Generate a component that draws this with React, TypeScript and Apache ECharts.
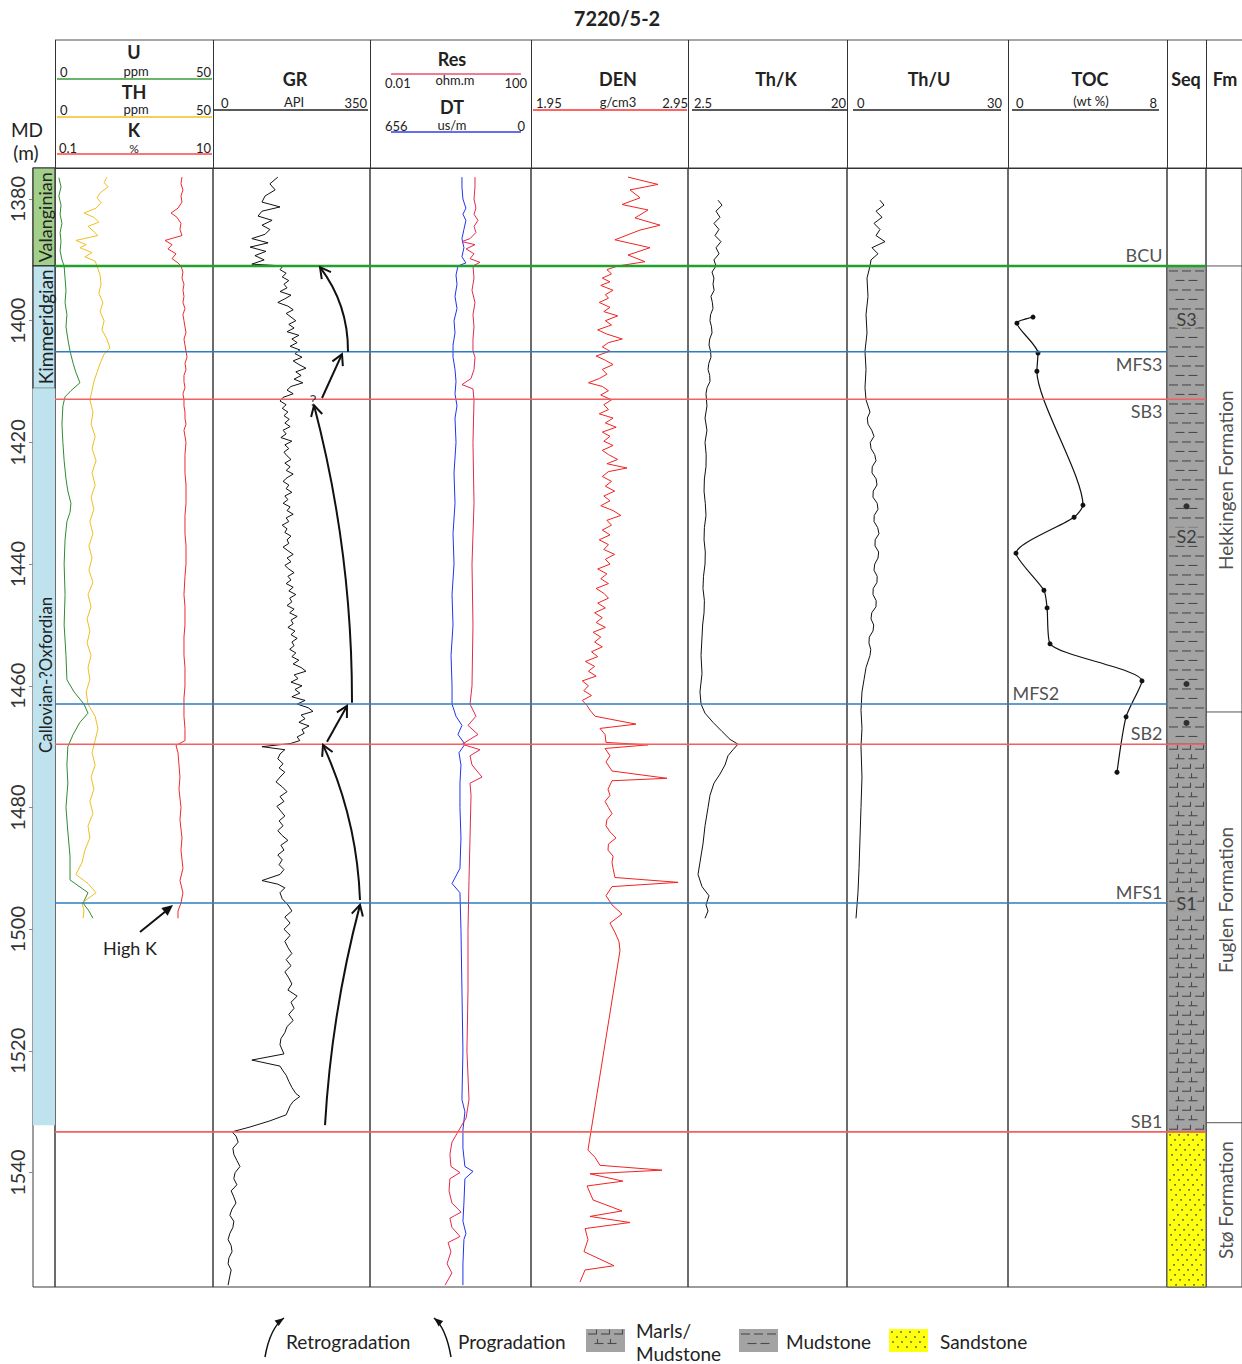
import React, { useEffect, useRef } from "react";
import * as echarts from "echarts";

const FONT = "Lato, 'Noto Sans', sans-serif";
const DEPTH_MIN = 1374.9;
const DEPTH_MAX = 1558.8;
const depthTicks = [1380, 1400, 1420, 1440, 1460, 1480, 1500, 1520, 1540];

// ---- log curves: [depth (m), value] ----
const U_PPM = [
  [1376.5, 0.6], [1378, 1.3], [1379.5, 0.6], [1381, 1.3], [1382.5, 1.0], [1384, 1.6], [1385.5, 1.0], [1387, 1.3],
  [1388.5, 1.0], [1390, 1.6], [1391, 2.3], [1393, 2.6], [1395, 2.9], [1397, 2.6], [1399, 3.2], [1401, 2.9],
  [1403, 3.5], [1405, 4.2], [1407, 5.2], [1408.5, 6.1], [1410.2, 7.4], [1411.5, 4.5], [1412.5, 2.6], [1414, 1.9],
  [1417, 1.6], [1420, 1.9], [1423, 2.3], [1426, 2.9], [1428, 3.5], [1430, 4.5], [1431.5, 4.2], [1433, 3.2],
  [1436, 2.6], [1440, 2.3], [1445, 2.6], [1450, 2.3], [1455, 2.9], [1459, 3.2], [1461, 5.5], [1463, 8.7],
  [1464.5, 10.0], [1466, 7.4], [1468, 5.2], [1470, 3.5], [1473, 3.2], [1476, 3.5], [1480, 2.9], [1484, 3.5],
  [1488, 4.2], [1491.9, 4.2], [1494, 10.0], [1495.7, 8.4], [1497, 10.3], [1498.2, 11.6],
];
const TH_PPM = [
  [1376.4, 16.1], [1377.3, 15.2], [1378.0, 16.5], [1379.0, 13.9], [1379.8, 12.9], [1380.6, 14.2], [1381.5, 12.6],
  [1382.3, 8.7], [1383.0, 11.9], [1383.8, 13.5], [1384.5, 10.0], [1385.2, 11.6], [1386.0, 13.2], [1386.8, 6.1],
  [1387.5, 9.4], [1388.0, 7.4], [1388.8, 11.3], [1389.5, 9.0], [1390.2, 12.3], [1391.0, 12.9], [1392.5, 13.9],
  [1394, 14.2], [1395.5, 13.5], [1397, 14.8], [1398.5, 13.9], [1400, 15.2], [1401.5, 14.5], [1403, 16.1],
  [1404.5, 17.1], [1405.5, 15.2], [1407, 13.9], [1408.5, 12.9], [1410, 11.9], [1411.5, 11.3], [1413, 10.6],
  [1415, 11.6], [1417, 11.0], [1419, 12.3], [1421, 11.3], [1423, 12.6], [1425, 11.3], [1427, 12.3], [1429, 11.0],
  [1431, 11.9], [1433, 10.6], [1435, 11.6], [1437, 10.3], [1439, 11.3], [1441, 10.3], [1443, 11.6], [1445, 10.0],
  [1447, 11.0], [1449, 9.7], [1451, 10.6], [1453, 9.7], [1455, 11.0], [1457, 10.0], [1459, 10.6], [1461, 9.4],
  [1463, 10.0], [1465, 12.3], [1467, 13.2], [1469, 12.3], [1471, 11.3], [1473, 12.3], [1475, 11.0], [1477, 11.9],
  [1479, 10.6], [1481, 11.6], [1483, 10.0], [1485, 10.6], [1487, 9.0], [1489, 8.1], [1491, 6.1], [1492.5, 10.0],
  [1494, 12.6], [1495.7, 8.1], [1497, 8.7], [1498.2, 8.4],
];
const K_PCT = [
  [1376.4, 4.10], [1377.5, 3.98], [1378.5, 4.22], [1379.5, 3.98], [1380.5, 4.10], [1381.5, 3.64], [1382.3, 2.96],
  [1383.0, 3.53], [1384.0, 3.98], [1385.0, 3.86], [1386.0, 4.10], [1386.8, 2.48], [1387.5, 3.05], [1388.2, 2.70],
  [1389.0, 3.43], [1389.8, 3.05], [1390.5, 3.64], [1391.0, 3.98], [1392, 4.22], [1393, 4.10], [1394, 4.35],
  [1395, 4.22], [1396, 4.35], [1397, 4.22], [1398, 4.48], [1399, 4.22], [1400, 4.35], [1401, 4.48], [1402, 4.62],
  [1403, 4.35], [1404, 4.48], [1405, 4.62], [1406, 4.76], [1407, 4.48], [1408, 4.62], [1409, 4.35], [1410, 4.35],
  [1411, 4.48], [1412, 4.22], [1413, 4.35], [1414, 4.35], [1415, 4.48], [1416, 4.48], [1417, 4.62], [1418, 4.35],
  [1420, 4.62], [1422, 4.48], [1425, 4.48], [1427, 4.62], [1430, 4.62], [1432, 4.48], [1435, 4.48], [1437, 4.62],
  [1440, 4.62], [1442, 4.48], [1445, 4.35], [1447, 4.48], [1450, 4.48], [1452, 4.35], [1455, 4.35], [1457, 4.48],
  [1460, 4.48], [1462, 4.35], [1465, 4.35], [1467, 4.48], [1469, 4.48], [1469.8, 3.43], [1471, 3.64],
  [1473, 3.75], [1475, 3.86], [1477, 3.75], [1480, 3.98], [1482, 3.86], [1485, 4.10], [1487, 3.98], [1490, 4.22],
  [1492, 3.86], [1494, 4.22], [1495.7, 3.98], [1497, 3.64], [1498.2, 3.64],
];
const GR_API = [
  [1376.4, 145], [1377.5, 127], [1378.5, 139], [1379.5, 116], [1380.5, 109], [1381.3, 150], [1382.0, 109],
  [1382.8, 100], [1383.5, 132], [1384.3, 109], [1385.0, 127], [1385.8, 116], [1386.5, 86], [1387.2, 123],
  [1387.9, 82], [1388.6, 118], [1389.3, 93], [1390.0, 114], [1390.7, 86], [1391, 157], [1391.6, 150],
  [1392.2, 164], [1392.8, 155], [1393.4, 170], [1394, 159], [1394.6, 166], [1395.2, 150], [1395.8, 175],
  [1396.4, 161], [1397, 145], [1397.6, 168], [1398.2, 180], [1398.8, 164], [1399.4, 175], [1400, 186],
  [1400.6, 170], [1401.2, 182], [1401.8, 166], [1402.4, 193], [1403, 177], [1403.6, 189], [1404.2, 173],
  [1404.8, 195], [1405.4, 184], [1406, 200], [1406.6, 180], [1407.2, 193], [1407.8, 209], [1408.4, 186],
  [1409, 198], [1409.6, 182], [1410.2, 202], [1410.8, 175], [1411.4, 166], [1412, 180], [1412.6, 157],
  [1413.2, 150], [1413.8, 164], [1414.4, 155], [1415, 168], [1415.6, 159], [1416.2, 171], [1416.8, 161],
  [1417.4, 173], [1418, 157], [1418.6, 164], [1419.2, 152], [1419.8, 177], [1420.4, 161], [1421, 170],
  [1421.6, 159], [1422.2, 166], [1422.8, 175], [1423.4, 161], [1424, 173], [1424.6, 164], [1425.2, 180],
  [1425.8, 166], [1426.4, 157], [1427, 170], [1427.6, 164], [1428.2, 177], [1428.8, 161], [1429.4, 168],
  [1430, 157], [1430.6, 173], [1431.2, 166], [1431.8, 180], [1432.4, 164], [1433, 170], [1433.6, 155],
  [1434.2, 166], [1434.8, 161], [1435.4, 175], [1436, 166], [1436.6, 170], [1437.2, 157], [1437.8, 168],
  [1438.4, 180], [1439, 166], [1439.6, 175], [1440.2, 161], [1440.8, 170], [1441.4, 182], [1442, 168],
  [1442.6, 175], [1443.2, 164], [1443.8, 180], [1444.4, 170], [1445, 186], [1445.6, 172], [1446.2, 177],
  [1446.8, 166], [1447.4, 182], [1448, 172], [1448.6, 189], [1449.2, 175], [1449.8, 180], [1450.4, 168],
  [1451, 184], [1451.6, 175], [1452.2, 189], [1452.8, 177], [1453.4, 182], [1454, 172], [1454.6, 186],
  [1455.2, 177], [1455.8, 193], [1456.4, 180], [1457, 198], [1457.6, 209], [1458.2, 182], [1458.8, 191],
  [1459.4, 175], [1460, 200], [1460.6, 184], [1461.2, 195], [1461.8, 177], [1462.4, 207], [1463, 189],
  [1463.6, 214], [1464.2, 225], [1464.8, 198], [1465.4, 207], [1466, 193], [1466.6, 216], [1467.2, 200],
  [1467.8, 205], [1468.4, 189], [1469, 195], [1469.5, 173], [1470, 109], [1470.5, 161], [1471.2, 150],
  [1472, 145], [1472.8, 157], [1473.5, 148], [1474.2, 161], [1475, 150], [1475.8, 141], [1476.6, 155],
  [1477.4, 166], [1478.2, 150], [1479, 159], [1479.8, 143], [1480.6, 152], [1481.4, 161], [1482.2, 148],
  [1483, 157], [1483.8, 145], [1484.6, 155], [1485.4, 168], [1486.2, 152], [1487, 159], [1487.8, 145],
  [1488.6, 155], [1489.4, 148], [1490.2, 159], [1491, 150], [1492, 109], [1492.6, 145], [1493.2, 161],
  [1494, 150], [1495, 155], [1496, 168], [1497, 177], [1498, 161], [1499, 173], [1500, 159], [1501, 173],
  [1502, 161], [1503, 168], [1504, 177], [1505, 164], [1506, 175], [1507, 161], [1508, 170], [1509, 177],
  [1510, 168], [1511, 189], [1512, 175], [1513, 182], [1514, 170], [1515, 180], [1516, 166], [1517, 161],
  [1518, 152], [1519, 150], [1520.5, 159], [1521.5, 86], [1522.5, 150], [1523.3, 157], [1524, 164],
  [1525, 170], [1526, 177], [1527, 186], [1527.5, 195], [1528.3, 180], [1529, 173], [1530.5, 164],
  [1531.5, 127], [1532.5, 82], [1533.3, 41], [1534, 50], [1535, 55], [1536, 43], [1537, 45], [1538, 52],
  [1539, 59], [1540, 48], [1541, 45], [1542, 52], [1543, 39], [1544, 45], [1545, 50], [1546, 41], [1547, 36],
  [1548, 45], [1549, 43], [1550, 36], [1551, 32], [1552, 39], [1553, 41], [1554, 34], [1555, 32], [1556, 39],
  [1557, 36], [1558.5, 32],
];
const RES_OHMM = [
  [1376.4, 3.84], [1378, 3.84], [1380, 3.58], [1381.5, 4.12], [1382.5, 3.58], [1383.5, 4.75], [1384.5, 3.58],
  [1385.5, 4.12], [1386.5, 2.70], [1387, 1.53], [1387.5, 3.84], [1388.2, 2.05], [1389, 3.58], [1389.8, 2.70],
  [1390.4, 5.47], [1391, 3.33], [1393, 3.58], [1395, 3.11], [1397, 3.84], [1399, 3.33], [1401, 3.58], [1403, 3.33],
  [1405, 3.33], [1406, 3.84], [1408, 3.58], [1409.5, 2.90], [1410.5, 1.53], [1411.2, 3.33], [1413, 3.58],
  [1420, 3.33], [1430, 3.58], [1440, 3.11], [1450, 3.33], [1460, 3.11], [1463, 2.70], [1465, 4.12], [1466.5, 2.34],
  [1468, 4.75], [1469.6, 1.53], [1470.5, 5.47], [1471.5, 2.70], [1473, 3.11], [1475, 6.31], [1476, 2.70],
  [1478, 2.90], [1485, 2.70], [1492, 2.51], [1500, 2.34], [1510, 2.34], [1520, 2.17], [1528, 2.51], [1531, 2.05],
  [1533.3, 1.15], [1535, 0.75], [1537, 0.65], [1539, 0.70], [1540, 1.33], [1541, 0.65], [1543, 0.61], [1545, 0.75],
  [1546.5, 1.43], [1547.5, 0.65], [1549, 0.75], [1550.5, 1.33], [1551.5, 0.57], [1553, 0.70], [1555, 0.53],
  [1556.5, 0.75], [1558.5, 0.46],
];
const DT_USM = [
  [1376.4, 298], [1378, 298], [1380, 293], [1381.5, 278], [1382.5, 293], [1383.5, 278], [1385, 288], [1386.5, 298],
  [1388, 288], [1389.5, 298], [1390.5, 278], [1391, 318], [1392.5, 328], [1394, 323], [1396, 333], [1398, 323],
  [1400, 338], [1402, 333], [1404, 343], [1406, 343], [1408, 333], [1410, 328], [1412, 333], [1414, 323],
  [1416, 333], [1420, 328], [1425, 338], [1430, 333], [1435, 343], [1440, 338], [1445, 348], [1450, 343],
  [1455, 353], [1460, 348], [1463, 348], [1465, 328], [1466.5, 298], [1468, 318], [1469.6, 283], [1471, 313],
  [1473, 303], [1476, 308], [1480, 308], [1485, 303], [1490, 308], [1492.5, 348], [1494, 308], [1500, 303],
  [1510, 298], [1520, 293], [1528, 298], [1530, 283], [1533, 293], [1536, 293], [1539, 283], [1539.8, 242],
  [1541, 283], [1545, 288], [1548, 293], [1550, 278], [1551, 288], [1555, 293], [1558.5, 293],
];
const DEN_GCC = [
  [1376.4, 2.567], [1377.6, 2.762], [1378.5, 2.580], [1379.8, 2.645], [1380.9, 2.528], [1381.8, 2.697],
  [1383.1, 2.612], [1384.3, 2.775], [1385.1, 2.645], [1386.7, 2.482], [1388.0, 2.710], [1389.2, 2.567],
  [1390.3, 2.677], [1391.0, 2.502], [1391.6, 2.43], [1392.3, 2.46], [1393, 2.40], [1393.6, 2.45], [1394.2, 2.39],
  [1395, 2.47], [1395.7, 2.42], [1396.3, 2.44], [1397, 2.38], [1397.8, 2.45], [1398.5, 2.41], [1399.2, 2.50],
  [1400, 2.42], [1400.7, 2.46], [1401.5, 2.37], [1402.2, 2.43], [1403, 2.53], [1403.6, 2.44], [1404.3, 2.40],
  [1405, 2.45], [1405.8, 2.36], [1406.5, 2.42], [1407.2, 2.47], [1408, 2.40], [1408.8, 2.43], [1409.5, 2.38],
  [1410.2, 2.31], [1410.8, 2.40], [1411.5, 2.44], [1412.2, 2.39], [1413, 2.46], [1413.8, 2.41], [1414.6, 2.44],
  [1415.3, 2.38], [1416, 2.47], [1416.8, 2.42], [1417.5, 2.49], [1418.3, 2.40], [1419, 2.45], [1419.8, 2.41],
  [1420.5, 2.47], [1421.3, 2.40], [1422, 2.44], [1422.8, 2.50], [1423.5, 2.43], [1424.2, 2.56], [1424.8, 2.44],
  [1425.6, 2.40], [1426.4, 2.46], [1427.2, 2.42], [1428, 2.48], [1428.8, 2.41], [1429.6, 2.45], [1430.4, 2.39],
  [1431.2, 2.47], [1432, 2.52], [1432.8, 2.43], [1433.6, 2.46], [1434.4, 2.40], [1435.2, 2.45], [1436, 2.38],
  [1436.8, 2.44], [1437.6, 2.41], [1438.4, 2.48], [1439.2, 2.42], [1440, 2.45], [1440.8, 2.37], [1441.6, 2.43],
  [1442.4, 2.39], [1443.2, 2.44], [1444, 2.36], [1444.8, 2.41], [1445.6, 2.44], [1446.4, 2.37], [1447.2, 2.42],
  [1448, 2.35], [1448.8, 2.40], [1449.6, 2.36], [1450.4, 2.42], [1451.2, 2.34], [1452, 2.39], [1452.8, 2.35],
  [1453.6, 2.40], [1454.4, 2.33], [1455.2, 2.37], [1456, 2.29], [1456.8, 2.35], [1457.6, 2.31], [1458.4, 2.36],
  [1459.2, 2.27], [1460, 2.31], [1460.8, 2.28], [1461.6, 2.33], [1462.4, 2.27], [1463.2, 2.30], [1464, 2.32],
  [1465, 2.353], [1466.3, 2.619], [1467, 2.385], [1468, 2.418], [1469.3, 2.424], [1469.7, 2.697], [1470.3, 2.418],
  [1471.5, 2.450], [1472.5, 2.424], [1474, 2.463], [1475.2, 2.820], [1475.6, 2.463], [1477, 2.437], [1478, 2.45],
  [1479, 2.418], [1480, 2.44], [1481, 2.463], [1482, 2.43], [1483, 2.424], [1484, 2.45], [1485, 2.489],
  [1486, 2.44], [1487, 2.437], [1488, 2.47], [1489, 2.463], [1490, 2.47], [1491.5, 2.482], [1492.3, 2.892],
  [1493, 2.463], [1494.5, 2.424], [1496, 2.463], [1497.5, 2.528], [1499, 2.450], [1500.5, 2.482], [1502, 2.508],
  [1503.5, 2.515], [1536.3, 2.307], [1537.5, 2.353], [1538.8, 2.385], [1539.6, 2.788], [1540.2, 2.320],
  [1541.4, 2.534], [1542.2, 2.301], [1544.5, 2.340], [1546.3, 2.528], [1547.2, 2.320], [1548.2, 2.580],
  [1549.2, 2.288], [1551, 2.307], [1553, 2.281], [1555.3, 2.476], [1556, 2.288], [1558, 2.255],
];
const THK_RATIO = [
  [1380.2, 5.44], [1381, 5.89], [1382, 5.21], [1383, 5.66], [1384, 4.98], [1385, 5.55], [1386, 5.10], [1387, 5.77],
  [1388, 5.21], [1389, 5.55], [1390, 4.98], [1391, 5.21], [1392, 4.76], [1393, 4.98], [1394, 4.87], [1395, 5.0],
  [1396, 4.64], [1397, 4.8], [1398, 4.87], [1399, 4.6], [1400, 4.53], [1401, 4.7], [1402, 4.76], [1403, 4.5],
  [1404, 4.42], [1405, 4.6], [1406, 4.64], [1407, 4.4], [1408, 4.31], [1409, 4.5], [1410, 4.53], [1411, 4.2],
  [1412, 4.08], [1414, 4.19], [1416, 3.97], [1418, 4.19], [1420, 3.97], [1422, 4.1], [1424, 4.08], [1426, 3.9],
  [1428, 3.86], [1430, 4.0], [1432, 4.08], [1434, 3.9], [1436, 3.86], [1438, 4.0], [1440, 3.97], [1442, 3.8],
  [1444, 3.74], [1446, 3.9], [1448, 3.86], [1450, 3.7], [1452, 3.63], [1455, 3.52], [1458, 3.63], [1461, 3.40],
  [1463, 3.52], [1464.5, 3.97], [1466, 4.87], [1467.5, 5.89], [1468.8, 6.79], [1469.6, 7.69], [1470.5, 7.13],
  [1471.5, 6.56], [1473, 6.23], [1474.5, 5.66], [1476, 4.98], [1478, 4.53], [1480, 4.31], [1483, 3.97],
  [1486, 3.74], [1489, 3.40], [1491, 3.18], [1493, 3.63], [1494.5, 4.42], [1496, 4.08], [1497, 4.31], [1498.2, 3.97],
];
const THU_RATIO = [
  [1380.2, 5.47], [1381, 6.28], [1382, 4.66], [1383, 5.88], [1384, 4.26], [1385, 5.47], [1386, 4.66], [1387, 6.49],
  [1388, 3.85], [1389, 5.07], [1390, 3.65], [1391, 3.45], [1393, 2.84], [1396, 3.04], [1399, 2.64], [1402, 2.84],
  [1405, 2.43], [1408, 2.64], [1411, 2.43], [1413, 2.64], [1415, 3.45], [1416, 2.9], [1417, 3.04], [1418, 3.8],
  [1419, 4.26], [1420, 3.5], [1421, 3.65], [1422, 4.4], [1423, 4.66], [1424, 3.9], [1425, 3.85], [1426, 4.7],
  [1427, 4.86], [1428, 4.1], [1429, 4.05], [1430, 4.9], [1431, 5.07], [1432, 4.3], [1433, 4.26], [1434, 5.0],
  [1435, 5.27], [1436, 4.5], [1437, 4.46], [1438, 5.2], [1439, 5.07], [1440, 4.4], [1441, 4.26], [1442, 4.9],
  [1443, 4.86], [1444, 4.1], [1445, 4.05], [1446, 4.7], [1447, 4.66], [1448, 3.8], [1449, 3.65], [1450, 4.2],
  [1451, 4.05], [1452, 3.3], [1453, 3.24], [1454, 3.6], [1455, 3.45], [1457, 2.64], [1459, 2.23], [1461, 1.82],
  [1464, 1.62], [1467, 1.82], [1470, 1.62], [1475, 1.82], [1480, 1.62], [1485, 1.42], [1490, 1.22], [1494, 1.01],
  [1498.2, 0.61],
];
const TOC_DEPTH = [1399.4, 1400.4, 1405.3, 1408.3, 1430.3, 1432.3, 1438.2, 1444.3, 1447.2, 1453.1, 1459.2, 1465.1, 1474.2];
const TOC_WT = [1.19, 0.32, 1.46, 1.40, 3.89, 3.41, 0.27, 1.78, 1.95, 2.11, 7.08, 6.22, 5.73];

// ---- surfaces, stratigraphy ----
const surfaceNames = ["BCU", "MFS3", "SB3", "MFS2", "SB2", "MFS1", "SB1"];
const surfaceDepths = [1391.0, 1405.1, 1412.9, 1463.0, 1469.6, 1495.7, 1533.3];
const surfaceKinds = ["bcu", "mfs", "sb", "mfs", "sb", "mfs", "sb"];

const stageNames = ["Valanginian", "Kimmeridgian", "Callovian-?Oxfordian"];
const stageTops = [DEPTH_MIN, 1391.0, 1411.1];
const stageBases = [1391.0, 1411.1, 1532.2];
const stageLabelDepths = [1383.0, 1401.0, 1458.2];

const lithTypes = ["mudstone", "marl", "sandstone"];
const lithTops = [1391.0, 1469.6, 1533.3];
const lithBases = [1469.6, 1533.3, DEPTH_MAX];

const seqNames = ["S3", "S2", "S1"];
const seqLabelDepths = [1399.7, 1435.4, 1495.7];
const seqDotDepths = [1430.5, 1459.7, 1466.1];

const fmNames = ["Hekkingen Formation", "Fuglen Formation", "Stø Formation"];
const fmTops = [1391.0, 1464.3, 1531.8];
const fmLabelDepths = [1426.2, 1495.2, 1544.5];

// GR-track trend arrows: [fromAPI, fromDepth, toAPI, toDepth, bend]
const grArrows = [
  [304.5, 1405.1, 240.9, 1391.2, 0.17],
  [245.5, 1412.7, 290.9, 1405.5, 0],
  [313.6, 1462.8, 227.3, 1413.9, 0.065],
  [256.8, 1469.2, 302.3, 1463.3, 0],
  [331.8, 1495.2, 247.7, 1469.7, 0.1],
  [252.3, 1532.2, 331.8, 1496.0, -0.05],
];

// ---- styles ----
const stageFill = ["#a2d08a", "#bee3ee", "#bee3ee"];
const stageStroke = ["#333", "#333", null];
const stageFont = [18, 19, 17];
const surfColor: Record<string, string> = { bcu: "#22a02c", mfs: "#2b7cc0", sb: "#f26060" };
const surfWidth: Record<string, number> = { bcu: 2.5, mfs: 1.6, sb: 1.6 };

function dashPattern(x: number, y: number, w: number, h: number, marl: boolean) {
  const out: any[] = [];
  const st = { stroke: "#4a4a4a", lineWidth: 1.1 };
  let r = 0;
  for (let yy = y + 5; yy < y + h - 2; yy += 9.5, r++) {
    const shift = r % 2 === 0 ? 0 : 6.5;
    for (let xx = x + 2 - shift; xx < x + w - 2; xx += 13) {
      const a = Math.max(xx, x + 2);
      const b = Math.min(xx + 9, x + w - 2);
      if (b - a >= 3) out.push({ type: "line", silent: true, shape: { x1: a, y1: yy, x2: b, y2: yy }, style: st });
      if (marl && b - a >= 7) {
        const cx = Math.round(r % 2 === 0 ? b - 1 : a + 2) + 0.5;
        out.push({ type: "line", silent: true, shape: { x1: cx, y1: yy - 4.5, x2: cx, y2: yy }, style: st });
      }
    }
  }
  return out;
}
function sandPattern(x: number, y: number, w: number, h: number) {
  const out: any[] = [];
  let r = 0;
  for (let yy = y + 3; yy < y + h - 1; yy += 5, r++) {
    for (let k = 0; k < 10; k++) {
      const xx = x + 3 + ((r * 5) % 9) + k * 9;
      if (xx > x + w - 2) break;
      out.push({ type: "circle", silent: true, shape: { cx: xx, cy: yy, r: 0.75 }, style: { fill: "#222" } });
    }
  }
  return out;
}
function lithBox(type: string, x: number, y: number, w: number, h: number, stroke: string | null) {
  const fill = type === "sandstone" ? "#ffff10" : "#a3a3a3";
  const kids: any[] = [{ type: "rect", silent: true, shape: { x, y, width: w, height: h }, style: { fill, stroke, lineWidth: 1 } }];
  if (type === "sandstone") kids.push(...sandPattern(x, y, w, h));
  else kids.push(...dashPattern(x, y, w, h, type === "marl"));
  return kids;
}
function headPts(tx: number, ty: number, dx: number, dy: number, len: number, half: number) {
  const l = Math.hypot(dx, dy) || 1;
  const ux = dx / l, uy = dy / l;
  const bx = tx - ux * len, by = ty - uy * len;
  return [[bx - uy * half, by + ux * half], [tx, ty], [bx + uy * half, by - ux * half]];
}

function txt(x: number, y: number, text: string, size = 13, opts: any = {}) {
  return {
    type: "text", x, y, silent: true,
    style: { text, fontSize: size, fontFamily: FONT, fill: "#222", align: opts.align || "center", verticalAlign: "middle", fontWeight: opts.bold ? "bold" : "normal" },
  };
}
function ln(x1: number, y1: number, x2: number, y2: number, color = "#333", width = 1) {
  return { type: "line", silent: true, shape: { x1, y1, x2, y2 }, style: { stroke: color, lineWidth: width } };
}
function curvedArrow(x1: number, y1: number, cx: number, cy: number, x2: number, y2: number) {
  return [
    { type: "bezierCurve", silent: true, shape: { x1, y1, x2, y2, cpx1: cx, cpy1: cy }, style: { stroke: "#111", lineWidth: 1.5, fill: null } },
    { type: "polygon", silent: true, shape: { points: headPts(x2, y2, x2 - cx, y2 - cy, 9, 3.5) }, style: { fill: "#111" } },
  ];
}

function buildOption() {
  const TOP = 168, H = 1119;
  const grid: any[] = [], xAxis: any[] = [], yAxis: any[] = [], series: any[] = [];
  const unit = { type: "value", min: 0, max: 1 };
  const addGrid = (left: number, width: number, x: any, frame: boolean, y: any = {}) => {
    const i = grid.length;
    grid.push({ left, top: TOP, width, height: H, show: frame, borderColor: "#3a3a3a", borderWidth: 1, backgroundColor: "transparent", containLabel: false });
    xAxis.push({ gridIndex: i, show: false, ...x });
    yAxis.push({ gridIndex: i, type: "value", inverse: true, min: DEPTH_MIN, max: DEPTH_MAX, show: false, splitLine: { show: false }, ...y });
    return i;
  };
  const depthAxis = {
    show: true, position: "left",
    axisLine: { show: false },
    axisTick: { show: true, length: 4, inside: false, lineStyle: { color: "#888" }, customValues: depthTicks },
    axisLabel: { show: true, rotate: 90, margin: 6, fontSize: 20, color: "#333", fontFamily: FONT, customValues: depthTicks, formatter: (v: number) => String(Math.round(v)) },
    splitLine: { show: false },
  };
  const F = {
    strat: addGrid(33, 22, unit, true, depthAxis),
    t1: addGrid(55, 158, unit, true),
    gr: addGrid(213, 157, unit, true),
    res: addGrid(370, 161, unit, true),
    den: addGrid(531, 157, unit, true),
    thk: addGrid(688, 159, unit, true),
    thu: addGrid(847, 161, unit, true),
    toc: addGrid(1008, 159, unit, true),
    seq: addGrid(1167, 39, unit, true),
    fm: addGrid(1206, 40, unit, true),
  };
  const gU = addGrid(57, 155, { type: "value", min: 0, max: 50 }, false);
  const gTH = addGrid(57, 155, { type: "value", min: 0, max: 50 }, false);
  const gK = addGrid(57, 155, { type: "log", logBase: 10, min: 0.1, max: 10 }, false);
  const gGR = addGrid(214, 154, { type: "value", min: 0, max: 350 }, false);
  const gRes = addGrid(391, 130, { type: "log", logBase: 10, min: 0.01, max: 100 }, false);
  const gDT = addGrid(391, 130, { type: "value", min: 0, max: 656, inverse: true }, false);
  const gDEN = addGrid(533, 154, { type: "value", min: 1.95, max: 2.95 }, false);
  const gTHK = addGrid(692, 155, { type: "value", min: 2.5, max: 20 }, false);
  const gTHU = addGrid(853, 148, { type: "value", min: 0, max: 30 }, false);
  const gTOC = addGrid(1011, 148, { type: "value", min: 0, max: 8 }, false);

  // stratigraphic column
  series.push({
    type: "custom", xAxisIndex: F.strat, yAxisIndex: F.strat, silent: true, z: 3, clip: false,
    encode: { x: 0, y: 1 },
    data: stageNames.map((_, i) => [0, stageTops[i], stageBases[i], i, stageLabelDepths[i]]),
    renderItem: (_p: any, api: any) => {
      const i = api.value(3);
      const a = api.coord([0, api.value(1)]);
      const b = api.coord([1, api.value(2)]);
      const lab = api.coord([0.5, api.value(4)]);
      return {
        type: "group",
        children: [
          { type: "rect", shape: { x: a[0], y: a[1], width: b[0] - a[0], height: b[1] - a[1] }, style: { fill: stageFill[i], stroke: stageStroke[i], lineWidth: 1.2 } },
          { type: "text", x: lab[0] + 1, y: lab[1], rotation: Math.PI / 2, style: { text: stageNames[i], fontSize: stageFont[i], fontFamily: FONT, fill: "#222", align: "center", verticalAlign: "middle" } },
        ],
      };
    },
  });

  // sequence / lithology column
  series.push({
    type: "custom", xAxisIndex: F.seq, yAxisIndex: F.seq, silent: true, z: 3, clip: false,
    encode: { x: 0, y: 1 },
    data: lithTypes.map((_, i) => [0, lithTops[i], lithBases[i], i]),
    renderItem: (_p: any, api: any) => {
      const i = api.value(3);
      const a = api.coord([0, api.value(1)]);
      const b = api.coord([1, api.value(2)]);
      return { type: "group", children: lithBox(lithTypes[i], a[0], a[1], b[0] - a[0], b[1] - a[1], "#555") };
    },
  });

  // surfaces
  const logTracks = [F.t1, F.gr, F.res, F.den, F.thk, F.thu, F.toc];
  surfaceNames.forEach((_, i) => {
    const kind = surfaceKinds[i];
    const targets = kind === "mfs" ? logTracks : [...logTracks, F.seq];
    targets.forEach((g) =>
      series.push({
        type: "line", xAxisIndex: g, yAxisIndex: g, silent: true, z: 6, symbol: "none",
        data: [[0, surfaceDepths[i]], [1, surfaceDepths[i]]],
        lineStyle: { color: surfColor[kind], width: surfWidth[kind] },
      })
    );
  });
  fmTops.forEach((d) =>
    series.push({
      type: "line", xAxisIndex: F.fm, yAxisIndex: F.fm, silent: true, z: 6, symbol: "none",
      data: [[0, d], [1, d]], lineStyle: { color: "#555", width: 1 },
    })
  );

  // surface labels
  const surfLabelSide = ["up", "down", "down", "left", "up", "up", "up"];
  series.push({
    type: "scatter", xAxisIndex: F.toc, yAxisIndex: F.toc, silent: true, z: 7, symbolSize: 1,
    itemStyle: { color: "rgba(0,0,0,0)" },
    data: surfaceNames.map((n, i) => {
      const side = surfLabelSide[i];
      return {
        name: n,
        value: [side === "left" ? 0 : 1, surfaceDepths[i]],
        label: {
          show: true, formatter: n, fontSize: 18, fontFamily: FONT, color: "#222",
          position: side === "left" ? "right" : "left", distance: 4,
          offset: [0, side === "down" ? 12 : -11],
        },
      };
    }),
  });

  // curves
  const curve = (g: number, data: number[][], color: string, width = 1) =>
    series.push({
      type: "line", xAxisIndex: g, yAxisIndex: g, silent: true, z: 4, symbol: "none", showSymbol: false,
      data: data.map(([d, v]) => [v, d]), lineStyle: { color, width },
    });
  curve(gU, U_PPM, "#2e8b30");
  curve(gTH, TH_PPM, "#efbf1e");
  curve(gK, K_PCT, "#f22828");
  curve(gGR, GR_API, "#111");
  curve(gDT, DT_USM, "#2233ee");
  curve(gRes, RES_OHMM, "#e3284e");
  curve(gDEN, DEN_GCC, "#f22222");
  curve(gTHK, THK_RATIO, "#111");
  curve(gTHU, THU_RATIO, "#111");
  series.push({
    type: "line", xAxisIndex: gTOC, yAxisIndex: gTOC, silent: true, z: 5, smooth: 0.22,
    symbol: "circle", symbolSize: 5, showSymbol: true,
    itemStyle: { color: "#111" }, lineStyle: { color: "#111", width: 1.2 },
    data: TOC_DEPTH.map((d, i) => [TOC_WT[i], d]),
  });

  // GR trend arrows
  series.push({
    type: "custom", xAxisIndex: gGR, yAxisIndex: gGR, silent: true, z: 8, clip: false,
    encode: { x: 0, y: 1 },
    data: grArrows,
    renderItem: (_p: any, api: any) => {
      const p1 = api.coord([api.value(0), api.value(1)]);
      const p2 = api.coord([api.value(2), api.value(3)]);
      const bend = api.value(4);
      const dx = p2[0] - p1[0], dy = p2[1] - p1[1];
      const len = Math.hypot(dx, dy);
      const nx = -dy / len, ny = dx / len;
      const cx = (p1[0] + p2[0]) / 2 + nx * bend * len;
      const cy = (p1[1] + p2[1]) / 2 + ny * bend * len;
      const hx = p2[0] - cx, hy = p2[1] - cy;
      const hl = Math.hypot(hx, hy);
      const ux = hx / hl, uy = hy / hl;
      const arm = (s: number) => {
        const c = Math.cos(0.5), sn = Math.sin(0.5) * s;
        const rx = ux * c - uy * sn, ry = ux * sn + uy * c;
        return [p2[0] - rx * 12, p2[1] - ry * 12];
      };
      return {
        type: "group",
        children: [
          { type: "bezierCurve", shape: { x1: p1[0], y1: p1[1], x2: p2[0], y2: p2[1], cpx1: cx, cpy1: cy }, style: { stroke: "#111", lineWidth: 2, fill: null } },
          { type: "polyline", shape: { points: [arm(1), p2, arm(-1)] }, style: { stroke: "#111", lineWidth: 2, fill: null } },
        ],
      };
    },
  });
  series.push({
    type: "scatter", xAxisIndex: gGR, yAxisIndex: gGR, silent: true, z: 8, symbolSize: 1,
    itemStyle: { color: "rgba(0,0,0,0)" },
    data: [{ value: [225, 1413.0], label: { show: true, formatter: "?", position: "inside", fontSize: 16, fontFamily: FONT, color: "#111" } }],
  });

  // seq labels and dots
  series.push({
    type: "scatter", xAxisIndex: F.seq, yAxisIndex: F.seq, silent: true, z: 7, symbolSize: 1,
    itemStyle: { color: "rgba(0,0,0,0)" },
    data: seqNames.map((n, i) => ({
      value: [0.5, seqLabelDepths[i]],
      label: { show: true, formatter: n, position: "inside", fontSize: 18, fontFamily: FONT, color: "#222", backgroundColor: "#a3a3a3", padding: [0, 1] },
    })),
  });
  series.push({
    type: "scatter", xAxisIndex: F.seq, yAxisIndex: F.seq, silent: true, z: 7, symbolSize: 6,
    itemStyle: { color: "#111" },
    data: seqDotDepths.map((d) => [0.5, d]),
  });
  // formation labels
  series.push({
    type: "scatter", xAxisIndex: F.fm, yAxisIndex: F.fm, silent: true, z: 7, symbolSize: 1,
    itemStyle: { color: "rgba(0,0,0,0)" },
    data: fmNames.map((n, i) => ({
      value: [0.55, fmLabelDepths[i]],
      label: { show: true, formatter: n, position: "inside", rotate: 90, fontSize: 19, fontFamily: FONT, color: "#222" },
    })),
  });

  // header & legend graphics
  const g: any[] = [];
  g.push(txt(617, 18, "7220/5-2", 20, { bold: true }));
  g.push(ln(55, 40, 1242, 40, "#888", 1.5));
  [55, 213, 370, 531, 688, 847, 1008, 1167, 1206].forEach((x) => g.push(ln(x + 0.5, 40, x + 0.5, 168, "#333", 1)));
  g.push(ln(33, 168.5, 1242, 168.5, "#333", 1));
  g.push(txt(27, 129, "MD", 19), txt(26, 152, "(m)", 19));
  // track 1
  g.push(txt(134, 52, "U", 18, { bold: true }), txt(60, 72, "0", 13, { align: "left" }), txt(136, 71, "ppm", 13), txt(211, 72, "50", 13, { align: "right" }));
  g.push(ln(57, 79, 212, 79, "#3b9a3b", 1.5));
  g.push(txt(134, 92, "TH", 18, { bold: true }), txt(60, 110, "0", 13, { align: "left" }), txt(136, 109, "ppm", 13), txt(211, 110, "50", 13, { align: "right" }));
  g.push(ln(57, 117, 212, 117, "#f0c020", 1.5));
  g.push(txt(134, 130, "K", 18, { bold: true }), txt(59, 148, "0.1", 13, { align: "left" }), txt(134, 148, "%", 12), txt(211, 148, "10", 13, { align: "right" }));
  g.push(ln(57, 154, 212, 154, "#ff4444", 1.5));
  // GR
  g.push(txt(295, 79, "GR", 18, { bold: true }), txt(221, 103, "0", 13, { align: "left" }), txt(294, 102, "API", 13), txt(367, 103, "350", 13, { align: "right" }));
  g.push(ln(214, 110, 368, 110, "#222", 1.5));
  // Res / DT
  g.push(txt(452, 59, "Res", 18, { bold: true }), ln(391, 74, 521, 74, "#e8506e", 1.5));
  g.push(txt(385, 83, "0.01", 13, { align: "left" }), txt(455, 80, "ohm.m", 13), txt(527, 83, "100", 13, { align: "right" }));
  g.push(txt(452, 107, "DT", 18, { bold: true }));
  g.push(txt(385, 126, "656", 13, { align: "left" }), txt(452, 125, "us/m", 13), txt(525, 126, "0", 13, { align: "right" }));
  g.push(ln(391, 132, 521, 132, "#3040e0", 1.5));
  // DEN
  g.push(txt(618, 79, "DEN", 18, { bold: true }), txt(536, 103, "1.95", 13, { align: "left" }), txt(618, 102, "g/cm3", 13), txt(688, 103, "2.95", 13, { align: "right" }));
  g.push(ln(533, 110, 687, 110, "#ff3030", 1.5));
  // Th/K
  g.push(txt(776, 79, "Th/K", 18, { bold: true }), txt(694, 103, "2.5", 13, { align: "left" }), txt(846, 103, "20", 13, { align: "right" }));
  g.push(ln(692, 110, 847, 110, "#222", 1.5));
  // Th/U
  g.push(txt(929, 79, "Th/U", 18, { bold: true }), txt(857, 103, "0", 13, { align: "left" }), txt(1002, 103, "30", 13, { align: "right" }));
  g.push(ln(853, 110, 1001, 110, "#222", 1.5));
  // TOC
  g.push(txt(1090, 79, "TOC", 18, { bold: true }), txt(1016, 103, "0", 13, { align: "left" }), txt(1091, 101, "(wt %)", 13), txt(1157, 103, "8", 13, { align: "right" }));
  g.push(ln(1012, 110, 1159, 110, "#222", 1.5));
  g.push(txt(1186, 79, "Seq", 18, { bold: true }), txt(1225, 79, "Fm", 18, { bold: true }));

  // High K annotation
  g.push(txt(130, 948, "High K", 18));
  g.push(ln(140, 932, 166, 911, "#111", 2));
  g.push({ type: "polygon", silent: true, shape: { points: headPts(173, 905, 33, -27, 11, 5) }, style: { fill: "#111" } });

  // legend
  g.push(...curvedArrow(265, 1357, 270, 1328, 284, 1318));
  g.push(txt(286, 1341, "Retrogradation", 19, { align: "left" }));
  g.push(...curvedArrow(451, 1357, 446, 1328, 434, 1318));
  g.push(txt(458, 1341, "Progradation", 19, { align: "left" }));
  g.push({ type: "group", silent: true, children: lithBox("marl", 586, 1329, 39, 23, null) });
  g.push(txt(636, 1330, "Marls/", 19, { align: "left" }), txt(636, 1353, "Mudstone", 19, { align: "left" }));
  g.push({ type: "group", silent: true, children: lithBox("mudstone", 739, 1329, 39, 23, null) });
  g.push(txt(786, 1341, "Mudstone", 19, { align: "left" }));
  g.push({ type: "group", silent: true, children: lithBox("sandstone", 889, 1329, 39, 23, null) });
  g.push(txt(940, 1341, "Sandstone", 19, { align: "left" }));

  return {
    animation: false,
    backgroundColor: "#fff",
    textStyle: { fontFamily: FONT },
    grid, xAxis, yAxis, series,
    graphic: { elements: g },
  };
}

export default function App() {
  const ref = useRef<HTMLDivElement>(null);
  useEffect(() => {
    if (!ref.current) return;
    const chart = echarts.init(ref.current, null, { renderer: "svg" });
    chart.setOption(buildOption() as any);
    return () => chart.dispose();
  }, []);
  return <div ref={ref} style={{ position: "absolute", left: 0, top: 0, width: 1242, height: 1364, background: "#fff" }} />;
}
